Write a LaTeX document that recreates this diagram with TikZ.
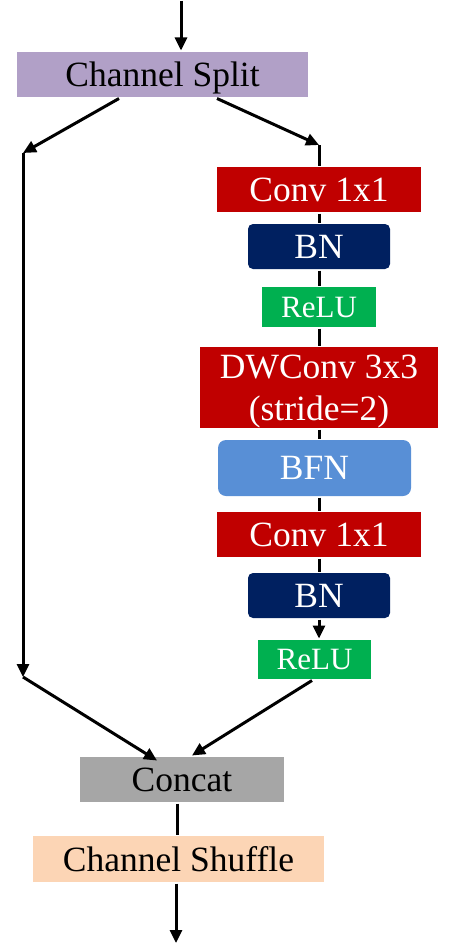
\documentclass[tikz,border=0pt]{standalone}
\usepackage{fontspec}
\setmainfont{Liberation Serif}
\usetikzlibrary{arrows.meta}
\definecolor{splitc}{HTML}{B1A0C7}
\definecolor{convc}{HTML}{C00000}
\definecolor{bnc}{HTML}{002060}
\definecolor{reluc}{HTML}{00B050}
\definecolor{bfnc}{HTML}{588FD6}
\definecolor{catc}{HTML}{A6A6A6}
\definecolor{shufc}{HTML}{FCD5B5}
\tikzstyle{blk}=[rectangle,inner sep=0pt,align=center,text depth=0pt,font=\fontsize{35.5}{42}\selectfont]
\tikzstyle{arr}=[-{Triangle[length=13pt,width=12pt]}]
\begin{document}
\begin{tikzpicture}[x=1pt,y=-1pt,line width=3pt]
\useasboundingbox (0,0) rectangle (458,950);
\coordinate (jr) at (319,145); \coordinate (jl) at (23,153); \coordinate (jl2) at (23,677); \coordinate (in) at (181,1); \coordinate (out) at (176,943);
\node[blk,fill=splitc,minimum width=291pt,minimum height=45pt] (split) at (162.5,74.5) {Channel Split};
\node[blk,fill=convc,text=white,minimum width=204pt,minimum height=45pt] (conv1) at (319,189.5) {Conv 1x1};
\node[blk,fill=bnc,text=white,rounded corners=5pt,minimum width=142pt,minimum height=45pt] (bn1) at (319,246.5) {BN};
\node[blk,fill=reluc,text=white,minimum width=114pt,minimum height=40pt,font=\fontsize{31}{36}\selectfont] (relu1) at (319,307) {ReLU};
\node[blk,fill=convc,text=white,minimum width=238pt,minimum height=81pt] (dw) at (319,387.5) {DWConv 3x3\\(stride=2)};
\node[blk,fill=bfnc,text=white,rounded corners=8pt,minimum width=193pt,minimum height=56pt] (bfn) at (314.5,468) {BFN};
\node[blk,fill=convc,text=white,minimum width=204pt,minimum height=45pt] (conv2) at (319,534.5) {Conv 1x1};
\node[blk,fill=bnc,text=white,rounded corners=5pt,minimum width=142pt,minimum height=45pt] (bn2) at (319,595.5) {BN};
\node[blk,fill=reluc,text=white,minimum width=113pt,minimum height=39pt,font=\fontsize{31}{36}\selectfont] (relu2) at (314.5,659.5) {ReLU};
\node[blk,fill=catc,minimum width=204pt,minimum height=45pt] (concat) at (182,779.5) {Concat};
\node[blk,fill=shufc,minimum width=291pt,minimum height=46pt] (shuffle) at (178.5,859) {Channel Shuffle};
\draw[arr] (in) -- (in |- split.north);
\draw[arr] ([xshift=-43.5pt]split.south) -- (jl); \draw[arr] ([xshift=54.5pt]split.south) -- (jr); \draw (jr) -- (conv1);
\draw (conv1) -- (bn1); \draw (bn1) -- (relu1); \draw (relu1) -- (dw); \draw (dw.south) -- (dw.south |- bfn.north); \draw (bfn.south -| conv2.north) -- (conv2); \draw (conv2) -- (bn2); \draw[arr] (bn2.south) -- (bn2.south |- relu2.north);
\draw[arr] (jl) -- (jl2); \draw[arr] (jl2) -- ([xshift=-25pt,yshift=-5pt]concat.north); \draw[arr] ([xshift=-2.5pt]relu2.south) -- ([xshift=10pt]concat.north);
\draw ([xshift=-5pt]concat.south) -- ([xshift=-5pt]concat.south |- shuffle.north); \draw[arr] (out |- shuffle.south) -- (out);
\end{tikzpicture}
\end{document}
